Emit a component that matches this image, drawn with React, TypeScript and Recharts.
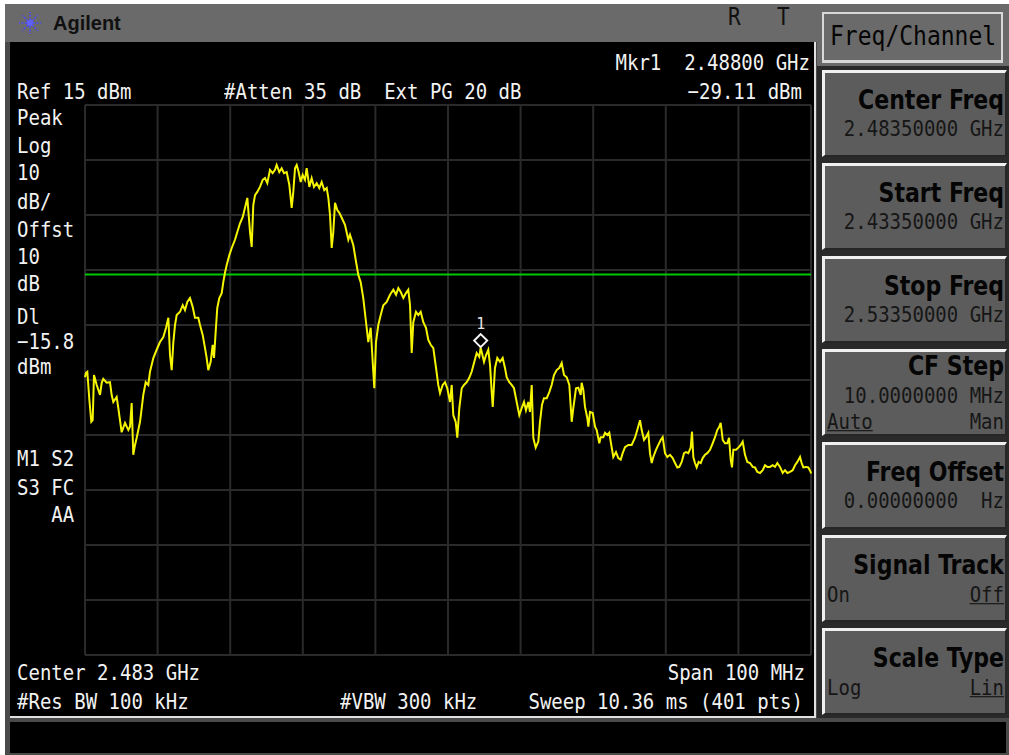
import React from "react";
import { CartesianGrid, Line, LineChart, ReferenceDot, ReferenceLine, XAxis, YAxis } from "recharts";

// sweep: 2.4335 GHz .. 2.5335 GHz, offsets in MHz from start freq
const freqDivisions = [0, 10, 20, 30, 40, 50, 60, 70, 80, 90, 100];
// ref 15 dBm, 10 dB/div
const levelDivisions = [15, 5, -5, -15, -25, -35, -45, -55, -65, -75, -85];
const displayLineDbm = -15.8;
const markerOffsetMHz = 54.5;
const markerDbm = -29.11;

// lower sidelobes + main lobe
const offsetsA = [
  0, 0.14, 0.32, 0.6, 0.87, 1.06, 1.24, 1.61, 2.07, 2.3,
  2.52, 2.98, 3.44, 3.67, 3.9, 4.36, 4.59, 5.05, 5.51, 5.97,
  6.2, 6.43, 6.65, 6.89, 7.12, 7.58, 7.81, 8.03, 8.36, 8.72,
  8.95, 9.41, 9.87, 10.33, 10.79, 11.16, 11.48, 11.71, 11.94, 12.17,
  12.4, 12.63, 13.09, 13.46, 13.77, 14.09, 14.46, 14.83, 15.15, 15.61,
  15.84, 16.21, 16.53, 16.76, 16.98, 17.31, 17.59, 17.77, 18.04, 18.22,
  18.5, 18.83, 19.05, 19.28, 19.52, 19.88, 20.21, 20.66, 20.98, 21.35,
  21.72, 22.04, 22.36, 22.73, 22.96, 23.18, 23.42, 23.73, 24.1, 24.48,
  24.79, 25.11, 25.48, 25.85, 26.17, 26.4, 26.76, 27.09, 27.41, 27.78,
  28.14, 28.47, 28.69, 28.93, 29.16, 29.43, 29.71, 29.98, 30.3, 30.53,
  30.9, 31.22, 31.54, 31.91, 32.27, 32.6, 32.96, 33.29, 33.52, 33.75,
  33.98, 34.2, 34.44, 34.75, 35.03, 35.36, 35.81, 36.27,
];
const levelsA = [
  -34.5, -33.7, -33.5, -38.6, -42.6, -42.3, -34.1, -35.9, -37.7, -35.5,
  -34.8, -35.5, -35.4, -37.7, -39.0, -38.1, -40.1, -44.5, -42.8, -44.1,
  -43.5, -39.2, -48.6, -46.8, -45.5, -42.6, -40.1, -37.7, -35.4, -35.9,
  -33.5, -31.0, -29.5, -28.1, -27.2, -25.5, -23.7, -30.5, -33.2, -28.1,
  -25.0, -23.2, -22.6, -21.4, -22.3, -20.8, -20.1, -21.7, -23.7, -23.7,
  -25.0, -26.8, -29.2, -31.0, -33.2, -31.7, -28.6, -31.0, -25.4, -21.9,
  -20.1, -19.2, -17.2, -15.5, -14.1, -12.3, -11.0, -9.5, -8.1, -6.5,
  -5.4, -3.7, -1.9, -8.1, -10.8, -3.2, -1.4, -0.8, 0.1, 1.4,
  1.7, 0.8, 3.2, 2.6, 3.2, 4.1, 2.8, 3.5, 2.6, 2.8,
  0.5, -3.7, -0.8, 3.5, 4.1, 2.8, 1.0, 2.3, 1.4, 3.5,
  0.1, 1.7, 0.1, 0.8, -0.1, 1.0, -0.5, -0.1, -1.9, -5.0,
  -11.0, -8.1, -2.8, -4.1, -4.6, -5.5, -6.8, -9.5,
];

// upper sidelobes around the marker
const offsetsB = [
  36.5, 36.96, 37.33, 37.65, 37.97, 38.33, 38.71, 39.02, 39.35, 39.71,
  39.85, 40.08, 40.4, 40.73, 41.09, 41.56, 42.01, 42.47, 42.84, 43.16,
  43.49, 43.85, 44.21, 44.53, 44.77, 45.0, 45.22, 45.59, 45.91, 46.24,
  46.6, 46.97, 47.29, 47.62, 47.98, 48.35, 48.66, 48.9, 49.27, 49.59,
  49.9, 50.28, 50.51, 50.73, 51.06, 51.28, 51.56, 51.89, 52.2, 52.58,
  52.93, 53.26, 53.58, 53.95, 54.31, 54.5, 54.96, 55.23, 55.55, 55.79,
  56.02, 56.16, 56.47, 56.79, 57.16, 57.53, 57.85, 58.08, 58.44, 58.77,
  59.09, 59.46, 59.82, 60.15, 60.47, 60.74, 61.06, 61.29, 61.53, 61.75,
  62.08, 62.44, 62.67, 62.95, 63.22, 63.6, 63.95, 64.28, 64.6, 64.97,
  65.33, 65.66, 65.98, 66.35, 66.71, 67.04, 67.26, 67.63, 67.95, 68.28,
];
const levelsB = [
  -8.6, -10.5, -13.5, -15.9, -17.2, -20.1, -24.5, -28.1, -25.5, -33.5,
  -36.5, -28.1, -25.0, -23.2, -21.4, -20.8, -19.5, -18.6, -19.5, -18.3,
  -19.0, -20.1, -19.2, -18.6, -21.4, -30.1, -24.5, -22.6, -23.2, -22.6,
  -24.5, -25.5, -27.7, -28.6, -29.2, -32.8, -35.9, -37.4, -35.9, -35.4,
  -36.5, -39.0, -35.9, -41.4, -42.6, -45.5, -40.1, -36.5, -35.9, -35.4,
  -34.6, -33.5, -31.9, -30.1, -30.8, -29.11, -31.7, -30.5, -29.5, -32.3,
  -37.2, -39.9, -32.8, -31.0, -31.7, -31.0, -32.8, -34.5, -35.4, -35.9,
  -36.5, -39.0, -41.4, -40.1, -39.0, -40.5, -39.0, -40.8, -35.9, -45.5,
  -47.3, -46.2, -42.6, -39.5, -38.3, -38.3, -37.2, -35.9, -34.1, -33.2,
  -32.8, -31.9, -34.1, -34.5, -35.9, -42.6, -40.1, -36.5, -36.4, -37.7,
];

// noise-ish tail up to stop freq
const offsetsC = [
  68.41, 68.64, 68.87, 69.19, 69.33, 69.56, 69.93, 70.25, 70.48, 70.84,
  71.03, 71.39, 71.63, 71.94, 72.22, 72.45, 72.77, 73.14, 73.46, 73.79,
  74.06, 74.38, 74.84, 75.3, 75.76, 76.07, 76.45, 76.68, 77.0, 77.27,
  77.59, 77.82, 78.06, 78.28, 78.65, 78.97, 79.3, 79.57, 79.89, 80.21,
  80.58, 80.95, 81.27, 81.59, 81.86, 82.19, 82.51, 82.78, 83.1, 83.43,
  83.61, 83.79, 84.02, 84.25, 84.53, 84.81, 85.08, 85.4, 85.72, 86.09,
  86.46, 86.78, 87.09, 87.37, 87.56, 87.84, 88.15, 88.47, 88.71, 88.94,
  89.12, 89.3, 89.67, 89.99, 90.32, 90.59, 90.91, 91.23, 91.6, 91.97,
  92.29, 92.61, 92.98, 93.35, 93.66, 93.98, 94.35, 94.72, 95.04, 95.36,
  95.73, 96.1, 96.42, 96.74, 97.11, 97.48, 97.8, 98.12, 98.49, 98.71,
  98.94, 99.31, 99.63, 99.95, 100,
];
const levelsC = [
  -35.5, -36.8, -39.9, -41.9, -43.5, -40.8, -41.0, -43.5, -44.1, -46.5,
  -45.4, -45.4, -44.6, -45.0, -44.6, -46.5, -49.0, -48.1, -49.2, -49.5,
  -48.3, -47.2, -46.8, -46.8, -45.5, -44.1, -42.3, -44.1, -45.9, -45.4,
  -44.6, -48.3, -50.1, -49.0, -47.7, -46.8, -45.9, -45.4, -48.3, -49.0,
  -48.6, -49.2, -50.1, -50.9, -50.8, -49.9, -48.3, -48.1, -48.3, -47.3,
  -44.4, -49.0, -50.1, -50.9, -49.9, -50.1, -49.2, -48.6, -48.3, -47.7,
  -46.5, -45.4, -44.1, -43.5, -42.8, -45.9, -46.5, -46.5, -45.5, -49.5,
  -50.9, -47.7, -47.7, -47.3, -46.8, -46.2, -48.6, -49.9, -50.1, -50.8,
  -50.9, -51.7, -51.9, -51.4, -50.5, -50.8, -50.8, -50.5, -50.8, -50.1,
  -50.8, -51.9, -51.4, -51.9, -51.7, -51.4, -50.5, -49.9, -49.0, -50.1,
  -50.9, -50.8, -50.9, -51.7, -52.0,
];

const softkeyLabels = ["Center Freq", "Start Freq", "Stop Freq", "CF Step", "Freq Offset", "Signal Track", "Scale Type"];
const softkeyValues = ["2.48350000 GHz", "2.43350000 GHz", "2.53350000 GHz", "10.0000000 MHz", "0.00000000  Hz", "", ""];
const softkeyChoices = [null, null, null, ["Auto", "Man"], null, ["On", "Off"], ["Log", "Lin"]];
const softkeyActive = [0, 0, 0, 0, 0, 1, 1];

const allLevels = [...levelsA, ...levelsB, ...levelsC];
const trace = [...offsetsA, ...offsetsB, ...offsetsC].map((f, i) => ({ f, dbm: allLevels[i] }));

const MONO = "'DejaVu Sans Mono', monospace";
const W = 1009;

function Txt(props: any) {
  const { x, right, y, size = 19, color = "#f2f2f2", bold, family = MONO, stretch = 1.15, underline, children } = props;
  const style: React.CSSProperties = {
    position: "absolute",
    top: y - size / 2,
    height: size,
    lineHeight: `${size}px`,
    fontFamily: family,
    fontSize: size,
    fontWeight: bold ? 700 : 400,
    color,
    whiteSpace: "pre",
    transform: `scaleY(${stretch})`,
    transformOrigin: "center",
    textDecoration: underline ? "underline" : "none",
  };
  if (right !== undefined) style.right = W - right;
  else style.left = x;
  return <div style={style}>{children}</div>;
}

function MarkerGlyph(props: any) {
  const { cx, cy } = props;
  const y = cy - 7;
  return (
    <g>
      <path d={`M${cx} ${y - 6.5} L${cx + 6.5} ${y} L${cx} ${y + 6.5} L${cx - 6.5} ${y} Z`} fill="none" stroke="#f4f4f4" strokeWidth={2} />
      <text x={cx} y={y - 12} textAnchor="middle" fill="#e6e6e6" fontFamily="DejaVu Sans Mono" fontSize={15}>
        1
      </text>
    </g>
  );
}

function Logo() {
  const rays = [0, 45, 90, 135, 180, 225, 270, 315];
  return (
    <svg width={30} height={30} style={{ position: "absolute", left: 15, top: 8 }}>
      {rays.map((a) => {
        const r = (a * Math.PI) / 180;
        return (
          <line key={a} x1={15 + 3 * Math.cos(r)} y1={15 + 3 * Math.sin(r)} x2={15 + 11 * Math.cos(r)} y2={15 + 11 * Math.sin(r)}
            stroke="#4a4aff" strokeWidth={1.5} strokeDasharray="2 1.5" />
        );
      })}
      <circle cx={15} cy={15} r={3} fill="#6060ff" />
    </svg>
  );
}

function Softkey({ i }: { i: number }) {
  const top = 70 + i * 93;
  const choices = softkeyChoices[i];
  const threeLine = choices && softkeyValues[i];
  const labelY = top + (threeLine ? 18 : 31);
  return (
    <>
      <div
        style={{
          position: "absolute", left: 822, top, width: 185, height: 87, boxSizing: "border-box",
          background: "#5c5c5c", borderTop: "3px solid #f0f0f0", borderLeft: "3px solid #f0f0f0",
          borderBottom: "2px solid #262626", borderRight: "2px solid #262626",
        }}
      />
      <Txt right={1004} y={labelY} size={24.5} color="#050505" bold family="'DejaVu Sans Condensed', 'DejaVu Sans', sans-serif" stretch={1.05}>
        {softkeyLabels[i]}
      </Txt>
      {softkeyValues[i] && (
        <Txt right={1004} y={top + (threeLine ? 46 : 58)} color="#161616">
          {softkeyValues[i]}
        </Txt>
      )}
      {choices && (
        <>
          <Txt x={827} y={top + (threeLine ? 72 : 59)} color="#161616" underline={softkeyActive[i] === 0}>
            {choices[0]}
          </Txt>
          <Txt right={1004} y={top + (threeLine ? 72 : 59)} color="#161616" underline={softkeyActive[i] === 1}>
            {choices[1]}
          </Txt>
        </>
      )}
    </>
  );
}

const leftLabels: [string, number][] = [
  ["Peak", 117], ["Log", 145], ["10", 172], ["dB/", 201], ["Offst", 229], ["10", 256], ["dB", 283],
  ["Dl", 316], ["\u221215.8", 341], ["dBm", 366], ["M1 S2", 458], ["S3 FC", 487], ["   AA", 514],
];

const hiddenTick = { fill: "transparent", fontSize: 1 };

export default function App() {
  return (
    <div style={{ position: "absolute", left: 0, top: 0, width: W, height: 755, background: "#ffffff", overflow: "hidden" }}>
      {/* frame */}
      <div style={{ position: "absolute", left: 5, top: 4, width: 1004, height: 751, background: "#4a4a4a" }} />
      <div style={{ position: "absolute", left: 5, top: 4, width: 812, height: 38, background: "#6a6a6a" }} />
      <div style={{ position: "absolute", left: 817, top: 4, width: 192, height: 64, background: "#6a6a6a" }} />
      <div style={{ position: "absolute", left: 817, top: 66, width: 192, height: 652, background: "#2a2a2a" }} />
      <Logo />
      <Txt x={53} y={23} size={20} color="#101010" bold family="'Liberation Sans', Arial, sans-serif" stretch={1}>
        Agilent
      </Txt>
      <Txt x={728} y={17} size={21} color="#101010">R</Txt>
      <Txt x={777} y={17} size={21} color="#101010">T</Txt>

      {/* screen */}
      <div style={{ position: "absolute", left: 10, top: 42, width: 806, height: 676, background: "#000", borderRight: "2px solid #e0e0e0", borderBottom: "2px solid #e0e0e0", boxSizing: "border-box" }} />
      <div style={{ position: "absolute", left: 10, top: 722, width: 996, height: 31, background: "#000" }} />

      <div style={{ position: "absolute", left: 75, top: 95 }}>
        <LineChart width={746} height={570} data={trace} margin={{ top: 10, right: 10, bottom: 10, left: 10 }}>
          <CartesianGrid stroke="#2a2a2a" strokeWidth={2} />
          <XAxis dataKey="f" type="number" domain={[0, 100]} ticks={freqDivisions} interval={0} height={0} tick={hiddenTick} axisLine={false} tickLine={false} />
          <YAxis type="number" domain={[-85, 15]} ticks={levelDivisions} interval={0} width={0} tick={hiddenTick} axisLine={false} tickLine={false} />
          <ReferenceLine y={displayLineDbm} stroke="#00c800" strokeWidth={2} />
          <Line dataKey="dbm" type="linear" stroke="#f5f500" strokeWidth={2} dot={false} isAnimationActive={false} />
          <ReferenceDot x={markerOffsetMHz} y={markerDbm} shape={MarkerGlyph} />
        </LineChart>
      </div>

      <Txt right={810} y={62}>{"Mkr1  2.48800 GHz"}</Txt>
      <Txt x={17} y={91}>Ref 15 dBm</Txt>
      <Txt x={224} y={91}>{"#Atten 35 dB  Ext PG 20 dB"}</Txt>
      <Txt right={802} y={91}>{"\u221229.11 dBm"}</Txt>
      {leftLabels.map(([t, y], k) => (
        <Txt key={k} x={17} y={y}>{t}</Txt>
      ))}
      <Txt x={17} y={672}>Center 2.483 GHz</Txt>
      <Txt right={805} y={672}>Span 100 MHz</Txt>
      <Txt x={17} y={701}>#Res BW 100 kHz</Txt>
      <Txt x={340} y={701}>#VBW 300 kHz</Txt>
      <Txt right={803} y={701}>Sweep 10.36 ms (401 pts)</Txt>

      {/* softkeys */}
      <div style={{ position: "absolute", left: 822, top: 12, width: 181, height: 51, boxSizing: "border-box", background: "#6a6a6a", border: "2px solid #d8d8d8", borderBottomWidth: 3 }} />
      <Txt x={830} y={36} size={23} color="#050505" stretch={1.15}>Freq/Channel</Txt>
      {softkeyLabels.map((_, i) => (
        <Softkey key={i} i={i} />
      ))}
    </div>
  );
}
